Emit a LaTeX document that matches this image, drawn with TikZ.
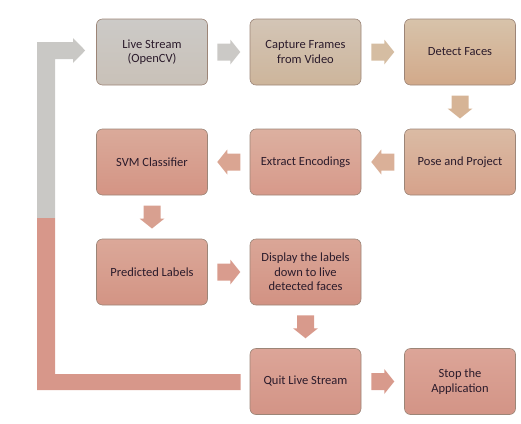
\documentclass[tikz,border=0pt]{standalone}
\usepackage{fontspec}
\setmainfont{Carlito}
\usetikzlibrary{calc}
\definecolor{txt}{HTML}{2B1B2B}
\definecolor{bord}{HTML}{9C8577}
\definecolor{liveT}{HTML}{CCCAC7}\definecolor{liveB}{HTML}{C9C1B8}
\definecolor{capT}{HTML}{D3C5B6}\definecolor{capB}{HTML}{CDB59B}
\definecolor{detT}{HTML}{D7C3AA}\definecolor{detB}{HTML}{D2A98A}
\definecolor{poseT}{HTML}{DABBA4}\definecolor{poseB}{HTML}{D6A28B}
\definecolor{encT}{HTML}{DCB0A0}\definecolor{encB}{HTML}{D7998A}
\definecolor{svmT}{HTML}{DAAA9A}\definecolor{svmB}{HTML}{D49484}
\definecolor{predT}{HTML}{DBA899}\definecolor{predB}{HTML}{D39484}
\definecolor{dispT}{HTML}{DAA697}\definecolor{dispB}{HTML}{D29283}
\definecolor{quitT}{HTML}{DCA598}\definecolor{quitB}{HTML}{D39486}
\definecolor{arA}{HTML}{CBC9C6}\definecolor{arB}{HTML}{D5BDA2}
\definecolor{arC}{HTML}{D6B496}\definecolor{arD}{HTML}{DAB098}
\definecolor{arE}{HTML}{DAA592}\definecolor{arF}{HTML}{D8A090}
\definecolor{arG}{HTML}{D99C8E}\definecolor{arH}{HTML}{D89A8C}
\definecolor{fbGray}{HTML}{C9C8C5}\definecolor{fbSal}{HTML}{D7978A}
\tikzset{
  x=1pt,y=-1pt,
  box/.style={draw=bord, line width=0.6pt, rounded corners=6pt, minimum width=111pt, minimum height=66pt,
    align=center, text=txt, font=\fontsize{12.5}{14.5}\selectfont, inner sep=2pt},
  blockarr/.pic={\fill (-11.5,-8.5) -- (1.5,-8.5) -- (1.5,-12.5) -- (11.5,0) -- (1.5,12.5) -- (1.5,8.5) -- (-11.5,8.5) -- cycle;},
}
\begin{document}
\begin{tikzpicture}
\useasboundingbox (0,0) rectangle (521,423);
% boxes
\node[box, top color=liveT, bottom color=liveB] (live) at (152,52) {Live Stream\\(OpenCV)};
\node[box, top color=capT, bottom color=capB] (cap) at (305.5,52) {Capture Frames\\from Video};
\node[box, top color=detT, bottom color=detB] (det) at (460,52) {Detect Faces};
\node[box, top color=poseT, bottom color=poseB] (pose) at (460,162) {Pose and Project};
\node[box, top color=encT, bottom color=encB] (enc) at (305.5,162) {Extract Encodings};
\node[box, top color=svmT, bottom color=svmB] (svm) at (152,162) {SVM Classifier};
\node[box, top color=predT, bottom color=predB] (pred) at (152,272) {Predicted Labels};
\node[box, top color=dispT, bottom color=dispB] (disp) at (305.5,272) {Display the labels\\down to live\\detected faces};
\node[box, top color=quitT, bottom color=quitB] (quit) at (305.5,381.5) {Quit Live Stream};
\node[box, top color=quitT, bottom color=quitB] (stop) at (460,381.5) {Stop the\\Application};
% block arrows
\pic[fill=arA] at ($(live.east)!.5!(cap.west)$) {blockarr};
\pic[fill=arB] at ($(cap.east)!.5!(det.west)$) {blockarr};
\pic[fill=arC, rotate=-90] at ($(det.south)!.5!(pose.north)$) {blockarr};
\pic[fill=arD, rotate=180] at ($(pose.west)!.5!(enc.east)$) {blockarr};
\pic[fill=arE, rotate=180] at ($(enc.west)!.5!(svm.east)$) {blockarr};
\pic[fill=arF, rotate=-90] at ($(svm.south)!.5!(pred.north)$) {blockarr};
\pic[fill=arG] at ($(pred.east)!.5!(disp.west)$) {blockarr};
\pic[fill=arH, rotate=-90] at ($(disp.south)!.5!(quit.north)$) {blockarr};
\pic[fill=arH] at ($(quit.east)!.5!(stop.west)$) {blockarr};
% feedback arrow
\coordinate (fb-end) at ($(quit.west)+(-9,0)$);
\coordinate (fb-tip) at ($(live.west)+(-11,-1.5)$);
\begin{scope}
  \clip (37,390) -- (fb-end |- 0,390) -- (fb-end |- 0,374) -- (55,374) -- (55,59) -- (73,59) -- (73,63)
        -- (fb-tip) -- (73,38) -- (73,42) -- (37,42) -- cycle;
  \fill[fbGray] (30,30) rectangle (250,218);
  \fill[fbSal] (30,218) rectangle (250,400);
\end{scope}
\end{tikzpicture}
\end{document}
